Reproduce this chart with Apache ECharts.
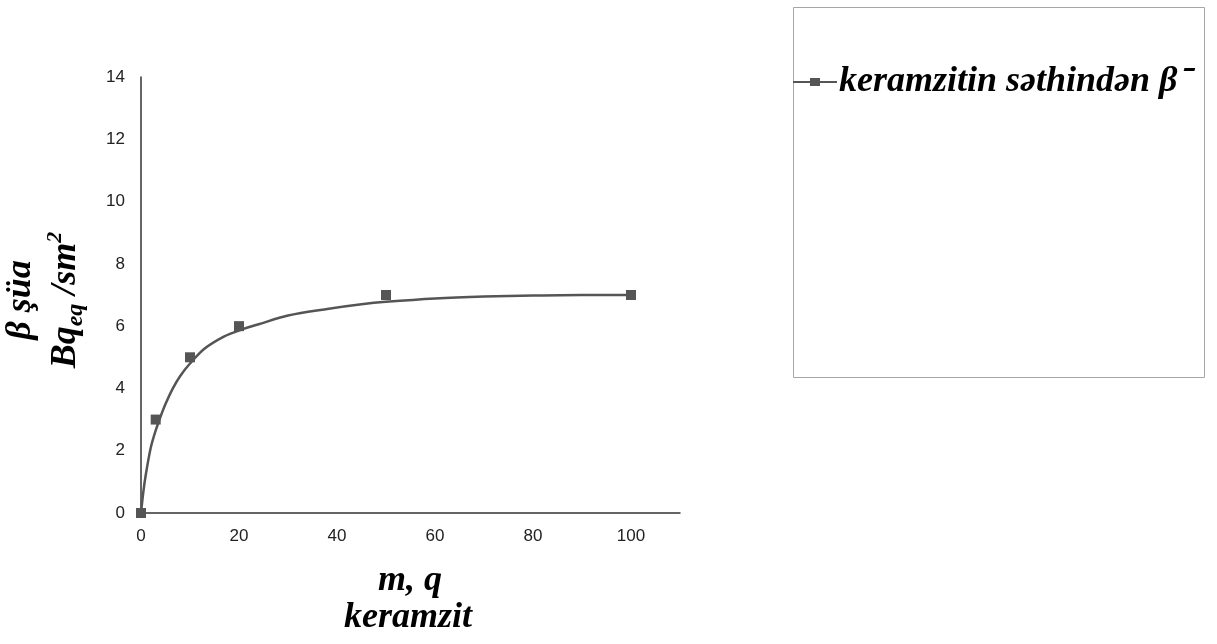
<!DOCTYPE html>
<html>
<head>
<meta charset="utf-8">
<script src="https://cdn.jsdelivr.net/npm/echarts@6/dist/echarts.min.js"></script>
<style>
html,body{margin:0;padding:0;background:#fff;}
#c{width:1217px;height:644px;}
</style>
</head>
<body>
<div id="c"></div>
<script>
// measured points
var massX = [0, 3, 10, 20, 50, 100];
var betaY = [0, 3, 5, 6, 7, 7];
// trendline
var curveX = [0, 0.5, 1, 2, 3, 4, 5, 6.5, 8, 10, 13, 17, 20, 24, 30, 38, 45, 50, 60, 70, 80, 90, 100];
var curveY = [0, 0.7, 1.25, 2.1, 2.65, 3.1, 3.5, 4.0, 4.4, 4.8, 5.28, 5.67, 5.86, 6.06, 6.34, 6.55, 6.7, 6.78, 6.89, 6.95, 6.98, 7.0, 7.0];
var xTicks = [0, 20, 40, 60, 80, 100];
var yTicks = [0, 2, 4, 6, 8, 10, 12, 14];
var seriesName = 'keramzitin səthindən β⁻';

var pts = massX.map(function (x, i) { return [x, betaY[i]]; });
var curve = curveX.map(function (x, i) { return [x, curveY[i]]; });

var serif = '"Liberation Serif", "Times New Roman", serif';
var sans = '"Liberation Sans", Arial, sans-serif';
var titleFont = { fontFamily: serif, fontSize: 36, fontWeight: 'bold', fontStyle: 'italic', fill: '#000' };

var chart = echarts.init(document.getElementById('c'));
chart.setOption({
  animation: false,
  backgroundColor: '#fff',
  grid: { left: 141, right: 537, top: 77, bottom: 131, containLabel: false },
  xAxis: {
    type: 'value', min: 0, max: 110, interval: 20,
    axisLine: { show: true, onZero: false, lineStyle: { color: '#333', width: 1.5 } },
    axisTick: { show: false },
    splitLine: { show: false },
    axisLabel: { showMaxLabel: false, margin: 15, color: '#222', fontFamily: sans, fontSize: 17,
      formatter: function (v) { return xTicks.indexOf(v) >= 0 ? String(v) : ''; } }
  },
  yAxis: {
    type: 'value', min: 0, max: 14, interval: 2,
    axisLine: { show: true, onZero: false, lineStyle: { color: '#333', width: 1.5 } },
    axisTick: { show: false },
    splitLine: { show: false },
    axisLabel: { margin: 16, color: '#222', fontFamily: sans, fontSize: 17,
      formatter: function (v) { return yTicks.indexOf(v) >= 0 ? String(v) : ''; } }
  },
  legend: {
    left: 793, top: 62,
    data: [{ name: seriesName, icon: 'path://M0,9h44v2h-44z M17,6h10v8h-10z' }],
    itemWidth: 44, itemHeight: 8, itemGap: 0,
    textStyle: { fontFamily: serif, fontSize: 36, lineHeight: 40, fontWeight: 'bold', fontStyle: 'italic', color: '#000', padding: [0, 0, 0, -3] },
    padding: 0
  },
  graphic: [
    { type: 'rect', shape: { x: 793.5, y: 7.5, width: 411, height: 370 },
      style: { fill: 'none', stroke: '#a6a6a6', lineWidth: 1 }, z: 0 },
    { type: 'group', x: 0, y: 300, rotation: Math.PI / 2, children: [
      { type: 'text', x: 0, y: 21, style: Object.assign({ text: 'β şüa', align: 'center', verticalAlign: 'middle' }, titleFont) },
      { type: 'text', x: 0, y: 66, style: {
        text: '{a|Bq}{b|eq}{a| /sm}{c|2}', align: 'center', verticalAlign: 'middle',
        rich: {
          a: { fontFamily: serif, fontSize: 36, fontWeight: 'bold', fontStyle: 'italic', fill: '#000', lineHeight: 44, verticalAlign: 'middle' },
          b: { fontFamily: serif, fontSize: 24, fontWeight: 'bold', fontStyle: 'italic', fill: '#000', lineHeight: 24, verticalAlign: 'bottom' },
          c: { fontFamily: serif, fontSize: 22, fontWeight: 'bold', fontStyle: 'italic', fill: '#000', lineHeight: 22, verticalAlign: 'top' }
        } } }
    ] },
    { type: 'text', x: 410, y: 581, style: Object.assign({ text: 'm, q', align: 'center', verticalAlign: 'middle' }, titleFont) },
    { type: 'text', x: 408, y: 618, style: Object.assign({ text: 'keramzit', align: 'center', verticalAlign: 'middle' }, titleFont) }
  ],
  series: [
    { name: 'trend', type: 'line', data: curve, smooth: 0.3, showSymbol: false, symbol: 'none',
      lineStyle: { color: '#555', width: 2.5 }, itemStyle: { color: '#555' }, z: 2 },
    { name: seriesName, type: 'scatter', data: pts, symbol: 'rect', symbolSize: 10,
      itemStyle: { color: '#555', opacity: 1 }, z: 3 }
  ]
});
</script>
</body>
</html>
